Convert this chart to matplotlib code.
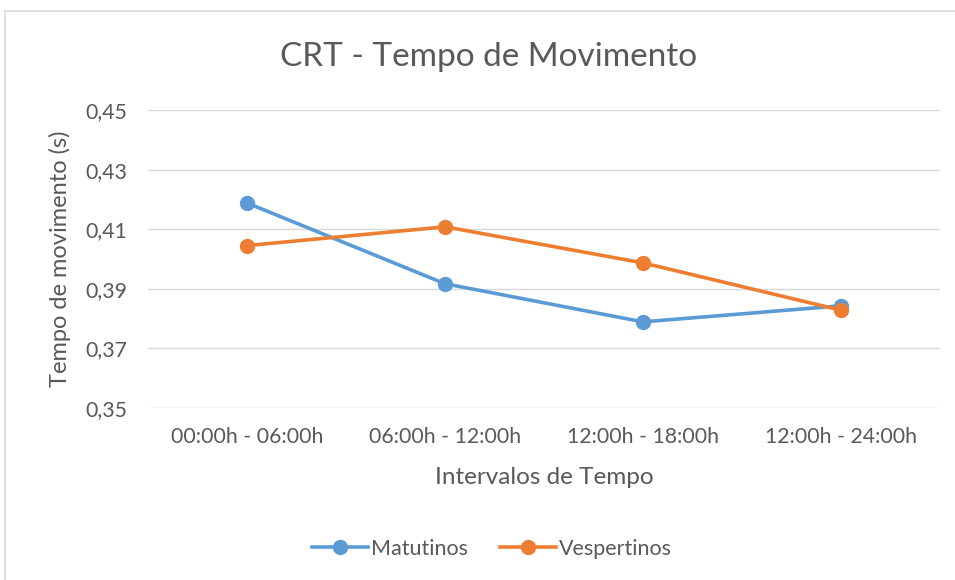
import matplotlib.pyplot as plt
from matplotlib.ticker import FuncFormatter
from matplotlib.lines import Line2D

plt.rcParams['font.family'] = ['Lato', 'DejaVu Sans']

categorias = ['00:00h - 06:00h', '06:00h - 12:00h', '12:00h - 18:00h', '12:00h - 24:00h']
matutinos = [0.4188, 0.3917, 0.3789, 0.3843]
vespertinos = [0.4045, 0.4108, 0.3987, 0.3828]

cor_texto = '#595959'
azul = '#5B9BD5'
laranja = '#ED7D31'

fig = plt.figure(figsize=(9.55, 5.8), dpi=100)
ax = fig.add_axes([148 / 955, 1 - 408 / 580, 792 / 955, 298 / 580])

x = range(len(categorias))
ax.plot(x, matutinos, color=azul, lw=2.6, marker='o', ms=10, label='Matutinos',
        solid_capstyle='round', zorder=3)
ax.plot(x, vespertinos, color=laranja, lw=2.6, marker='o', ms=10, label='Vespertinos',
        solid_capstyle='round', zorder=4)

ax.set_xlim(-0.5, len(categorias) - 0.5)
ax.set_ylim(0.35, 0.45)
ax.set_yticks([0.35, 0.37, 0.39, 0.41, 0.43, 0.45])
ax.yaxis.set_major_formatter(FuncFormatter(lambda v, p: ('%.2f' % v).replace('.', ',')))
ax.set_xticks(list(x))
ax.set_xticklabels(categorias)
ax.grid(axis='y', color='#d9d9d9', lw=1)
ax.set_axisbelow(True)
for s in ax.spines.values():
    s.set_visible(False)
ax.tick_params(length=0, labelsize=15.3, colors=cor_texto)
ax.tick_params(axis='x', pad=14)
ax.tick_params(axis='y', pad=15)

ax.set_xlabel('Intervalos de Tempo', fontsize=17.5, color=cor_texto, labelpad=14)
ax.set_ylabel('Tempo de movimento (s)', fontsize=17, color=cor_texto, labelpad=10)
fig.text(489 / 955, 1 - 57 / 580, 'CRT - Tempo de Movimento', fontsize=24,
         color=cor_texto, ha='center', va='center')

handles = [Line2D([0], [0], color=azul, lw=2.6, marker='o', ms=10),
           Line2D([0], [0], color=laranja, lw=2.6, marker='o', ms=10)]
fig.legend(handles, ['Matutinos', 'Vespertinos'], loc='center', ncol=2,
           bbox_to_anchor=(492 / 955, 1 - 549 / 580), frameon=False, fontsize=15.5,
           labelcolor=cor_texto, handlelength=2.6, handletextpad=0.15, columnspacing=1.5)

# moldura do grafico (canto superior esquerdo visivel)
fig.add_artist(plt.Rectangle((5 / 955, -0.1), 1.2, 1.1 - 11 / 580, transform=fig.transFigure,
                             fill=False, ec='#d9d9d9', lw=1.2))

fig.savefig('out.png', dpi=100)
